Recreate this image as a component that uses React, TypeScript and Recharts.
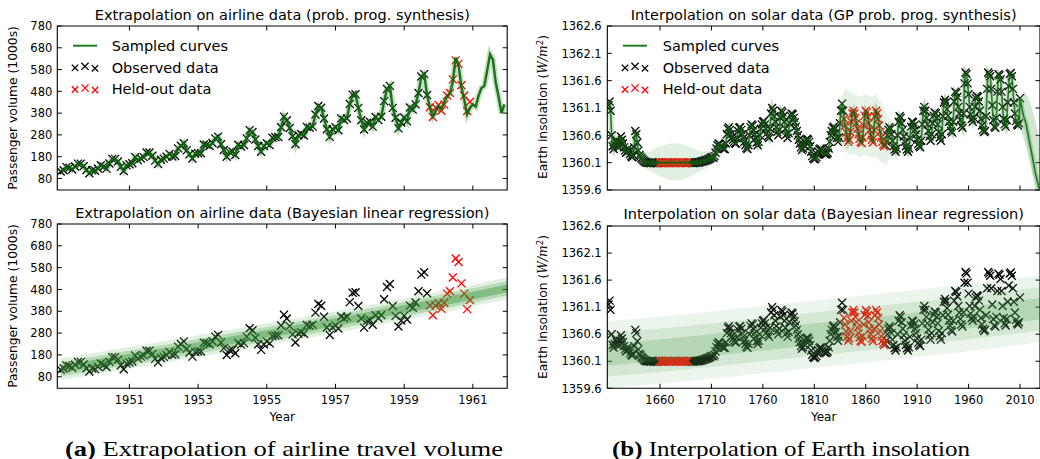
import { Area, ComposedChart, Line, ReferenceArea, Scatter, XAxis, YAxis } from "recharts"

// ---------- airline data ----------
const airlineStartYear = 1949
// monthly passengers (1000s), Jan 1949 - Dec 1960
const airlinePassengers = [
  112, 118, 132, 129, 121, 135, 148, 148, 136, 119, 104, 118,
  115, 126, 141, 135, 125, 149, 170, 170, 158, 133, 114, 140,
  145, 150, 178, 163, 172, 178, 199, 199, 184, 162, 146, 166,
  171, 180, 193, 181, 183, 218, 230, 242, 209, 191, 172, 194,
  196, 196, 236, 235, 229, 243, 264, 272, 237, 211, 180, 201,
  204, 188, 235, 227, 234, 264, 302, 293, 259, 229, 203, 229,
  242, 233, 267, 269, 270, 315, 364, 347, 312, 274, 237, 278,
  284, 277, 317, 313, 318, 374, 413, 405, 355, 306, 271, 306,
  315, 301, 356, 348, 355, 422, 465, 467, 404, 347, 305, 336,
  340, 318, 362, 348, 363, 435, 491, 505, 404, 359, 310, 337,
  360, 342, 406, 396, 420, 472, 548, 559, 463, 407, 362, 405,
  417, 391, 419, 461, 472, 535, 622, 606, 508, 461, 390, 432,
]
const airlineHeldOutFrom = 129 // Oct 1959
// synthesized curve, Oct 1959 - Dec 1961
const synthForecast = [
  405, 365, 390,
  410, 400, 430, 455, 470, 525, 635, 600, 500, 440, 375, 405,
  420, 410, 460, 495, 505, 575, 650, 625, 520, 455, 380, 420,
]
// Bayesian linear regression band
const blrYears = [1949, 1950, 1951, 1952, 1953, 1954, 1955, 1956, 1957, 1958, 1959, 1960, 1961, 1962]
const blrOuterLow = [65, 90, 117, 143, 170, 197, 225, 252, 280, 310, 340, 370, 402, 435]
const blrOuterHigh = [165, 190, 217, 243, 270, 297, 325, 352, 380, 410, 440, 470, 502, 535]
const blrMidLow = [82, 107, 134, 160, 187, 214, 242, 269, 297, 327, 357, 387, 419, 452]
const blrMidHigh = [148, 173, 200, 226, 253, 280, 308, 335, 363, 393, 423, 453, 485, 518]
const blrInnerLow = [97, 122, 149, 175, 202, 229, 257, 284, 312, 342, 372, 402, 434, 467]
const blrInnerHigh = [133, 158, 185, 211, 238, 265, 293, 320, 348, 378, 408, 438, 470, 503]

const airlineXDomain = [1948.9, 1962]
const airlineXTicks = [1951, 1953, 1955, 1957, 1959, 1961]
const airlineYDomain = [27, 780]
const airlineYTicks = [80, 180, 280, 380, 480, 580, 680, 780]

// ---------- solar data ----------
const solarStartYear = 1610
const solarValues = [
  1361.15, 1361.22, 1361.05, 1360.6, 1360.4, 1360.35, 1360.42, 1360.5, 1360.45, 1360.4,
  1360.38, 1360.48, 1360.58, 1360.52, 1360.45, 1360.38, 1360.32, 1360.28, 1360.3, 1360.36,
  1360.32, 1360.26, 1360.22, 1360.2, 1360.24, 1360.38, 1360.68, 1360.62, 1360.47, 1360.32,
  1360.24, 1360.21, 1360.18, 1360.16, 1360.14, 1360.12, 1360.11, 1360.1, 1360.1, 1360.1,
  1360.1, 1360.09, 1360.1, 1360.11, 1360.09, 1360.1, 1360.1, 1360.09, 1360.1, 1360.11,
  1360.1, 1360.09, 1360.1, 1360.11, 1360.1, 1360.09, 1360.1, 1360.1, 1360.11, 1360.1,
  1360.09, 1360.1, 1360.1, 1360.11, 1360.1, 1360.09, 1360.1, 1360.1, 1360.11, 1360.1,
  1360.09, 1360.1, 1360.11, 1360.1, 1360.1, 1360.09, 1360.1, 1360.11, 1360.1, 1360.1,
  1360.1, 1360.1, 1360.09, 1360.1, 1360.1, 1360.1, 1360.11, 1360.1, 1360.11, 1360.11,
  1360.12, 1360.12, 1360.13, 1360.13, 1360.14, 1360.15, 1360.15, 1360.16, 1360.17, 1360.18,
  1360.2, 1360.2, 1360.19, 1360.22, 1360.28, 1360.36, 1360.42, 1360.45, 1360.44, 1360.4,
  1360.38, 1360.36, 1360.35, 1360.35, 1360.45, 1360.62, 1360.72, 1360.75, 1360.7, 1360.62,
  1360.56, 1360.52, 1360.48, 1360.45, 1360.45, 1360.55, 1360.68, 1360.74, 1360.75, 1360.7,
  1360.62, 1360.55, 1360.48, 1360.42, 1360.37, 1360.35, 1360.42, 1360.6, 1360.75, 1360.8,
  1360.78, 1360.7, 1360.62, 1360.55, 1360.47, 1360.42, 1360.48, 1360.6, 1360.72, 1360.8,
  1360.85, 1360.86, 1360.8, 1360.72, 1360.64, 1360.58, 1360.55, 1360.72, 1361.0, 1361.1,
  1361.05, 1360.95, 1360.85, 1360.75, 1360.66, 1360.6, 1360.7, 1360.92, 1361.05, 1361.02,
  1360.95, 1360.85, 1360.72, 1360.62, 1360.55, 1360.64, 1360.82, 1360.96, 1361.0, 1360.98,
  1360.92, 1360.84, 1360.76, 1360.68, 1360.6, 1360.52, 1360.45, 1360.38, 1360.33, 1360.36,
  1360.42, 1360.48, 1360.52, 1360.54, 1360.52, 1360.48, 1360.4, 1360.3, 1360.22, 1360.18,
  1360.16, 1360.17, 1360.2, 1360.25, 1360.3, 1360.34, 1360.36, 1360.34, 1360.31, 1360.28,
  1360.26, 1360.25, 1360.26, 1360.28, 1360.36, 1360.48, 1360.6, 1360.68, 1360.74, 1360.76,
  1360.72, 1360.64, 1360.55, 1360.48, 1360.56, 1360.82, 1361.05, 1361.18, 1361.05, 1360.9,
  1360.78, 1360.65, 1360.55, 1360.48, 1360.52, 1360.66, 1360.85, 1361.0, 1361.05, 1361.0,
  1360.92, 1360.82, 1360.72, 1360.62, 1360.54, 1360.48, 1360.46, 1360.56, 1360.78, 1360.96,
  1361.05, 1361.02, 1360.94, 1360.82, 1360.7, 1360.6, 1360.52, 1360.47, 1360.7, 1360.95,
  1361.05, 1361.0, 1360.9, 1360.78, 1360.66, 1360.56, 1360.48, 1360.43, 1360.4, 1360.42,
  1360.48, 1360.6, 1360.7, 1360.75, 1360.72, 1360.62, 1360.5, 1360.4, 1360.34, 1360.3,
  1360.36, 1360.6, 1360.85, 1360.95, 1360.92, 1360.82, 1360.7, 1360.58, 1360.48, 1360.4,
  1360.34, 1360.3, 1360.36, 1360.55, 1360.76, 1360.85, 1360.84, 1360.78, 1360.7, 1360.62,
  1360.52, 1360.44, 1360.4, 1360.38, 1360.5, 1360.8, 1361.05, 1361.12, 1361.05, 1360.92,
  1360.8, 1360.68, 1360.58, 1360.5, 1360.62, 1360.82, 1360.96, 1361.02, 1361.0, 1360.92,
  1360.8, 1360.66, 1360.56, 1360.5, 1360.62, 1360.95, 1361.2, 1361.25, 1361.2, 1361.08,
  1360.96, 1360.85, 1360.76, 1360.68, 1360.65, 1360.85, 1361.22, 1361.4, 1361.38, 1361.3,
  1361.12, 1361.0, 1360.88, 1360.78, 1360.74, 1361.0, 1361.55, 1361.75, 1361.72, 1361.55,
  1361.35, 1361.12, 1360.98, 1360.9, 1360.85, 1360.92, 1361.12, 1361.28, 1361.32, 1361.3,
  1361.22, 1361.05, 1360.9, 1360.78, 1360.7, 1360.66, 1360.68, 1360.95, 1361.45, 1361.75,
  1361.72, 1361.68, 1361.45, 1361.15, 1360.88, 1360.76, 1360.74, 1360.92, 1361.4, 1361.72,
  1361.7, 1361.62, 1361.4, 1361.12, 1360.9, 1360.8, 1360.76, 1360.88, 1361.2, 1361.5,
  1361.72, 1361.74, 1361.68, 1361.45, 1361.2, 1361.0, 1360.86, 1360.8, 1360.78, 1360.82,
  1361.28,
]
const solarHeldOut = [[1660, 1687], [1839, 1878]]

// GP synthesis: extrapolated mean after the data, and spread where data are missing
const gpTailYears = [2013, 2016, 2019, 2022, 2025, 2029]
const gpTailValues = [1360.98, 1360.8, 1360.5, 1360.2, 1359.9, 1359.6]
const gpBandAYears = [1640, 1650, 1660, 1670, 1680, 1690, 1700, 1710, 1720]
const gpBandALow = [1360.05, 1359.95, 1359.85, 1359.78, 1359.78, 1359.85, 1359.95, 1360.05, 1360.2]
const gpBandAHigh = [1360.3, 1360.3, 1360.4, 1360.45, 1360.45, 1360.38, 1360.3, 1360.32, 1360.5]
const gpBandBYears = [1834, 1840, 1845, 1850, 1855, 1860, 1865, 1870, 1875, 1880, 1886]
const gpBandBLow = [1360.5, 1360.3, 1360.25, 1360.25, 1360.2, 1360.25, 1360.2, 1360.2, 1360.1, 1360.05, 1360.3]
const gpBandBHigh = [1361.2, 1361.45, 1361.4, 1361.35, 1361.3, 1361.35, 1361.3, 1361.35, 1361.2, 1361.0, 1360.85]
const gpBandCYears = [2005, 2010, 2015, 2020, 2025, 2029]
const gpBandCLow = [1360.8, 1360.75, 1360.45, 1360.05, 1359.6, 1359.3]
const gpBandCHigh = [1361.2, 1361.3, 1361.4, 1361.2, 1360.85, 1360.55]

// Bayesian linear regression band on solar data
const brYears = [1609, 1640, 1670, 1700, 1730, 1760, 1790, 1820, 1850, 1880, 1910, 1940, 1970, 2000, 2029]
const brOuterLow = [1359.6, 1359.65, 1359.7, 1359.76, 1359.82, 1359.88, 1359.94, 1360.0, 1360.06, 1360.12, 1360.18, 1360.24, 1360.31, 1360.38, 1360.45]
const brOuterHigh = [1360.84, 1360.89, 1360.94, 1361.0, 1361.06, 1361.12, 1361.18, 1361.24, 1361.3, 1361.36, 1361.42, 1361.48, 1361.55, 1361.62, 1361.69]
const brMidLow = [1359.82, 1359.87, 1359.92, 1359.98, 1360.04, 1360.1, 1360.16, 1360.22, 1360.28, 1360.34, 1360.4, 1360.46, 1360.53, 1360.6, 1360.67]
const brMidHigh = [1360.62, 1360.67, 1360.72, 1360.78, 1360.84, 1360.9, 1360.96, 1361.02, 1361.08, 1361.14, 1361.2, 1361.26, 1361.33, 1361.4, 1361.47]
const brInnerLow = [1360.02, 1360.07, 1360.12, 1360.18, 1360.24, 1360.3, 1360.36, 1360.42, 1360.48, 1360.54, 1360.6, 1360.66, 1360.73, 1360.8, 1360.87]
const brInnerHigh = [1360.42, 1360.47, 1360.52, 1360.58, 1360.64, 1360.7, 1360.76, 1360.82, 1360.88, 1360.94, 1361.0, 1361.06, 1361.13, 1361.2, 1361.27]

const solarXDomain = [1608.8, 2029.4]
const solarXTicks = [1660, 1710, 1760, 1810, 1860, 1910, 1960, 2010]
const solarYDomain = [1359.6, 1362.6]
const solarYTicks = [1359.6, 1360.1, 1360.6, 1361.1, 1361.6, 1362.1, 1362.6]

// ---------- derived rows ----------
const airlinePoints = airlinePassengers.map((y, i) => ({ x: airlineStartYear + i / 12, y }))
const airlineObserved = airlinePoints.slice(0, airlineHeldOutFrom)
const airlineHeldOut = airlinePoints.slice(airlineHeldOutFrom)
const synthCurve = [...airlinePassengers.slice(0, airlineHeldOutFrom), ...synthForecast].map((y, i) => ({
  x: airlineStartYear + i / 12,
  y,
}))
const blrBand = blrYears.map((x, i) => ({
  x,
  outer: [blrOuterLow[i], blrOuterHigh[i]],
  mid: [blrMidLow[i], blrMidHigh[i]],
  inner: [blrInnerLow[i], blrInnerHigh[i]],
}))

const solarPoints = solarValues.map((y, i) => ({ x: solarStartYear + i, y }))
const isHeldOut = (x: number) => solarHeldOut.some(([a, b]) => x >= a && x <= b)
const solarObserved = solarPoints.filter((p) => !isHeldOut(p.x))
const solarHeld = solarPoints.filter((p) => isHeldOut(p.x))
const gpMean = [...solarPoints, ...gpTailYears.map((x, i) => ({ x, y: gpTailValues[i] }))]
const band = (years: number[], lo: number[], hi: number[]) => years.map((x, i) => ({ x, r: [lo[i], hi[i]] }))
const gpBandA = band(gpBandAYears, gpBandALow, gpBandAHigh)
const gpBandB = band(gpBandBYears, gpBandBLow, gpBandBHigh)
const gpBandC = band(gpBandCYears, gpBandCLow, gpBandCHigh)
const brBand = brYears.map((x, i) => ({
  x,
  outer: [brOuterLow[i], brOuterHigh[i]],
  mid: [brMidLow[i], brMidHigh[i]],
  inner: [brInnerLow[i], brInnerHigh[i]],
}))

// ---------- drawing helpers ----------
const FONT = "DejaVu Sans"
const TICK = 4.5

function Cross({ cx, cy, color, r = 4 }: { cx: number; cy: number; color: string; r?: number }) {
  if (cx == null || cy == null) return <g />
  return (
    <path
      d={`M${cx - r},${cy - r}L${cx + r},${cy + r}M${cx - r},${cy + r}L${cx + r},${cy - r}`}
      stroke={color}
      strokeWidth={1.3}
      fill="none"
    />
  )
}
const blackCross = (p: any) => <Cross cx={p.cx} cy={p.cy} color="#000" />
const redCross = (p: any) => <Cross cx={p.cx} cy={p.cy} color="#ff0000" />

const xTick = (plotH: number, labels: boolean) => (p: any) => (
  <g>
    <line x1={p.x} x2={p.x} y1={p.y} y2={p.y - TICK} stroke="#000" />
    <line x1={p.x} x2={p.x} y1={p.y - plotH} y2={p.y - plotH + TICK} stroke="#000" />
    {labels && (
      <text x={p.x} y={p.y + 15.7} textAnchor="middle" fontSize={11.5} fontFamily={FONT} fill="#000">
        {p.payload.value}
      </text>
    )}
  </g>
)

const yTick = (plotW: number, gap: number) => (p: any) => (
  <g>
    <line x1={p.x} x2={p.x + TICK} y1={p.y} y2={p.y} stroke="#000" />
    <line x1={p.x + plotW} x2={p.x + plotW - TICK} y1={p.y} y2={p.y} stroke="#000" />
    <text x={p.x - gap} y={p.y + 4.2} textAnchor="end" fontSize={11.5} fontFamily={FONT} fill="#000">
      {p.payload.value}
    </text>
  </g>
)

const axisCommon = {
  type: "number" as const,
  allowDataOverflow: true,
  axisLine: false,
  tickLine: false,
  tickSize: 0,
  tickMargin: 0,
  interval: 0 as const,
}

type PanelProps = {
  left: number
  top: number
  height: number
  marginTop: number
  marginRight: number
  xAxisHeight: number
  yAxisWidth: number
  plotW: number
  plotH: number
  xDomain: number[]
  xTicks: number[]
  yDomain: number[]
  yTicks: number[]
  xLabels: boolean
  yGap: number
  under: React.ReactNode[]
  over: React.ReactNode[]
}

// two stacked charts with identical geometry: markers below, sampled curves above
function Panel(p: PanelProps) {
  const margin = { top: p.marginTop, right: p.marginRight, bottom: 0, left: 0 }
  const axes = (withTicks: boolean) => [
    <XAxis
      key="x"
      {...axisCommon}
      dataKey="x"
      domain={p.xDomain}
      ticks={p.xTicks}
      height={p.xAxisHeight}
      tick={withTicks ? xTick(p.plotH, p.xLabels) : false}
    />,
    <YAxis
      key="y"
      {...axisCommon}
      domain={p.yDomain}
      ticks={p.yTicks}
      width={p.yAxisWidth}
      tick={withTicks ? yTick(p.plotW, p.yGap) : false}
    />,
  ]
  return (
    <div style={{ position: "absolute", left: p.left, top: p.top, width: 520, height: p.height }}>
      <div style={{ position: "absolute", left: 0, top: 0 }}>
        <ComposedChart width={520} height={p.height} margin={margin}>
          {axes(true)}
          {p.under}
        </ComposedChart>
      </div>
      <div style={{ position: "absolute", left: 0, top: 0 }}>
        <ComposedChart width={520} height={p.height} margin={margin}>
          {axes(false)}
          {p.over}
          <ReferenceArea
            x1={p.xDomain[0]}
            x2={p.xDomain[1]}
            y1={p.yDomain[0]}
            y2={p.yDomain[1]}
            fill="none"
            fillOpacity={0}
            stroke="#000"
            strokeWidth={1.1}
            ifOverflow="visible"
          />
        </ComposedChart>
      </div>
    </div>
  )
}

function Legend({ x0, text0 }: { x0: number; text0: number }) {
  const rows = [45.7, 67.3, 89]
  return (
    <g fontFamily={FONT} fontSize={14.5} fill="#000">
      <line x1={x0} x2={x0 + 24} y1={rows[0]} y2={rows[0]} stroke="#1f7f1f" strokeWidth={2} />
      <text x={text0} y={rows[0] + 5.2}>Sampled curves</text>
      <Cross cx={x0 + 2} cy={rows[1] + 0.5} r={3.2} color="#000" />
      <Cross cx={x0 + 12} cy={rows[1] - 1} r={3.6} color="#000" />
      <Cross cx={x0 + 22} cy={rows[1] + 1} r={3.2} color="#000" />
      <text x={text0} y={rows[1] + 5.2}>Observed data</text>
      <Cross cx={x0 + 2} cy={rows[2] + 0.5} r={3.2} color="#ff0000" />
      <Cross cx={x0 + 12} cy={rows[2] - 1} r={3.6} color="#ff0000" />
      <Cross cx={x0 + 22} cy={rows[2] + 1} r={3.2} color="#ff0000" />
      <text x={text0} y={rows[2] + 5.2}>Held-out data</text>
    </g>
  )
}

function SolarLabel({ cx, cy }: { cx: number; cy: number }) {
  return (
    <text
      x={cx}
      y={cy}
      transform={`rotate(-90 ${cx} ${cy})`}
      textAnchor="middle"
      fontFamily={FONT}
      fontSize={12.3}
      fill="#000"
    >
      Earth insolation (
      <tspan fontFamily="DejaVu Serif" fontStyle="italic">W/m</tspan>
      <tspan fontSize={8.5} dy={-4.5}>2</tspan>
      <tspan dy={4.5}>)</tspan>
    </text>
  )
}

const noAnim = { isAnimationActive: false }

const airlineMarkers = [
  <Scatter key="obs" data={airlineObserved} dataKey="y" shape={blackCross} {...noAnim} />,
  <Scatter key="held" data={airlineHeldOut} dataKey="y" shape={redCross} {...noAnim} />,
]
const solarMarkers = [
  <Scatter key="obs" data={solarObserved} dataKey="y" shape={blackCross} {...noAnim} />,
  <Scatter key="held" data={solarHeld} dataKey="y" shape={redCross} {...noAnim} />,
]

export default function App() {
  const leftGeom = { marginRight: 12.8, yAxisWidth: 57.3, plotW: 449.9, yGap: 5, xDomain: airlineXDomain, xTicks: airlineXTicks, yDomain: airlineYDomain, yTicks: airlineYTicks }
  const rightGeom = { marginRight: 0, yAxisWidth: 87.3, plotW: 432.7, yGap: 5.6, xDomain: solarXDomain, xTicks: solarXTicks, yDomain: solarYDomain, yTicks: solarYTicks }
  return (
    <div
      style={{
        position: "absolute",
        left: 0,
        top: 0,
        width: 1040,
        height: 459,
        overflow: "hidden",
        background: "#fff",
      }}
    >
      <Panel
        {...leftGeom}
        left={0}
        top={0}
        height={200}
        marginTop={26}
        xAxisHeight={10}
        plotH={164}
        xLabels={false}
        under={airlineMarkers}
        over={[
          <Line key="halo" data={synthCurve} dataKey="y" stroke="#3c9c3c" strokeWidth={6} strokeOpacity={0.3} dot={false} {...noAnim} />,
          <Line key="core" data={synthCurve} dataKey="y" stroke="#0b640b" strokeWidth={2.4} strokeOpacity={0.9} dot={false} {...noAnim} />,
        ]}
      />
      <Panel
        {...leftGeom}
        left={0}
        top={200}
        height={230}
        marginTop={24}
        xAxisHeight={41.7}
        plotH={164.3}
        xLabels
        under={airlineMarkers}
        over={[
          <Area key="o" data={blrBand} dataKey="outer" stroke="none" fill="#5aaa5a" fillOpacity={0.18} {...noAnim} />,
          <Area key="m" data={blrBand} dataKey="mid" stroke="none" fill="#3f9a3f" fillOpacity={0.26} {...noAnim} />,
          <Area key="i" data={blrBand} dataKey="inner" stroke="none" fill="#2a8a2a" fillOpacity={0.36} {...noAnim} />,
        ]}
      />
      <Panel
        {...rightGeom}
        left={520}
        top={0}
        height={200}
        marginTop={26}
        xAxisHeight={10}
        plotH={164}
        xLabels={false}
        under={solarMarkers}
        over={[
          <Area key="a" data={gpBandA} dataKey="r" stroke="none" fill="#5aaa5a" fillOpacity={0.18} {...noAnim} />,
          <Area key="b" data={gpBandB} dataKey="r" stroke="none" fill="#5aaa5a" fillOpacity={0.15} {...noAnim} />,
          <Area key="c" data={gpBandC} dataKey="r" stroke="none" fill="#5aaa5a" fillOpacity={0.28} {...noAnim} />,
          <Line key="halo" data={gpMean} dataKey="y" stroke="#3c9c3c" strokeWidth={5} strokeOpacity={0.3} dot={false} {...noAnim} />,
          <Line key="core" data={gpMean} dataKey="y" stroke="#0b5e0b" strokeWidth={1.6} strokeOpacity={0.8} dot={false} {...noAnim} />,
        ]}
      />
      <Panel
        {...rightGeom}
        left={520}
        top={200}
        height={230}
        marginTop={26}
        xAxisHeight={41.7}
        plotH={162.3}
        xLabels
        under={solarMarkers}
        over={[
          <Area key="o" data={brBand} dataKey="outer" stroke="none" fill="#6ab46a" fillOpacity={0.13} {...noAnim} />,
          <Area key="m" data={brBand} dataKey="mid" stroke="none" fill="#4ea44e" fillOpacity={0.16} {...noAnim} />,
          <Area key="i" data={brBand} dataKey="inner" stroke="none" fill="#3a963a" fillOpacity={0.2} {...noAnim} />,
        ]}
      />

      {/* titles, axis names, legends, captions */}
      <svg width={1040} height={459} style={{ position: "absolute", left: 0, top: 0, pointerEvents: "none" }}>
        <g fontFamily={FONT} fontSize={14.5} fill="#000" textAnchor="middle">
          <text x={282.3} y={19.5}>Extrapolation on airline data (prob. prog. synthesis)</text>
          <text x={282.3} y={218}>Extrapolation on airline data (Bayesian linear regression)</text>
          <text x={823.7} y={19.5}>Interpolation on solar data (GP prob. prog. synthesis)</text>
          <text x={823.7} y={218.5}>Interpolation on solar data (Bayesian linear regression)</text>
        </g>
        <g fontFamily={FONT} fontSize={12.3} fill="#000" textAnchor="middle">
          <text x={17} y={108} transform="rotate(-90 17 108)">Passenger volume (1000s)</text>
          <text x={17} y={306} transform="rotate(-90 17 306)">Passenger volume (1000s)</text>
          <text x={282.3} y={420.5} fontSize={12}>Year</text>
          <text x={823.7} y={420.5} fontSize={12}>Year</text>
        </g>
        <SolarLabel cx={547} cy={107} />
        <SolarLabel cx={547} cy={307} />
        <Legend x0={73} text0={111.7} />
        <Legend x0={623} text0={662.7} />
        <g fontFamily="Liberation Serif" fontSize={22} fill="#000">
          <text x={65} y={455.5} textLength={438} lengthAdjust="spacingAndGlyphs">
            <tspan fontWeight="bold">(a)</tspan> Extrapolation of airline travel volume
          </text>
          <text x={612} y={455.5} textLength={358} lengthAdjust="spacingAndGlyphs">
            <tspan fontWeight="bold">(b)</tspan> Interpolation of Earth insolation
          </text>
        </g>
      </svg>
    </div>
  )
}
